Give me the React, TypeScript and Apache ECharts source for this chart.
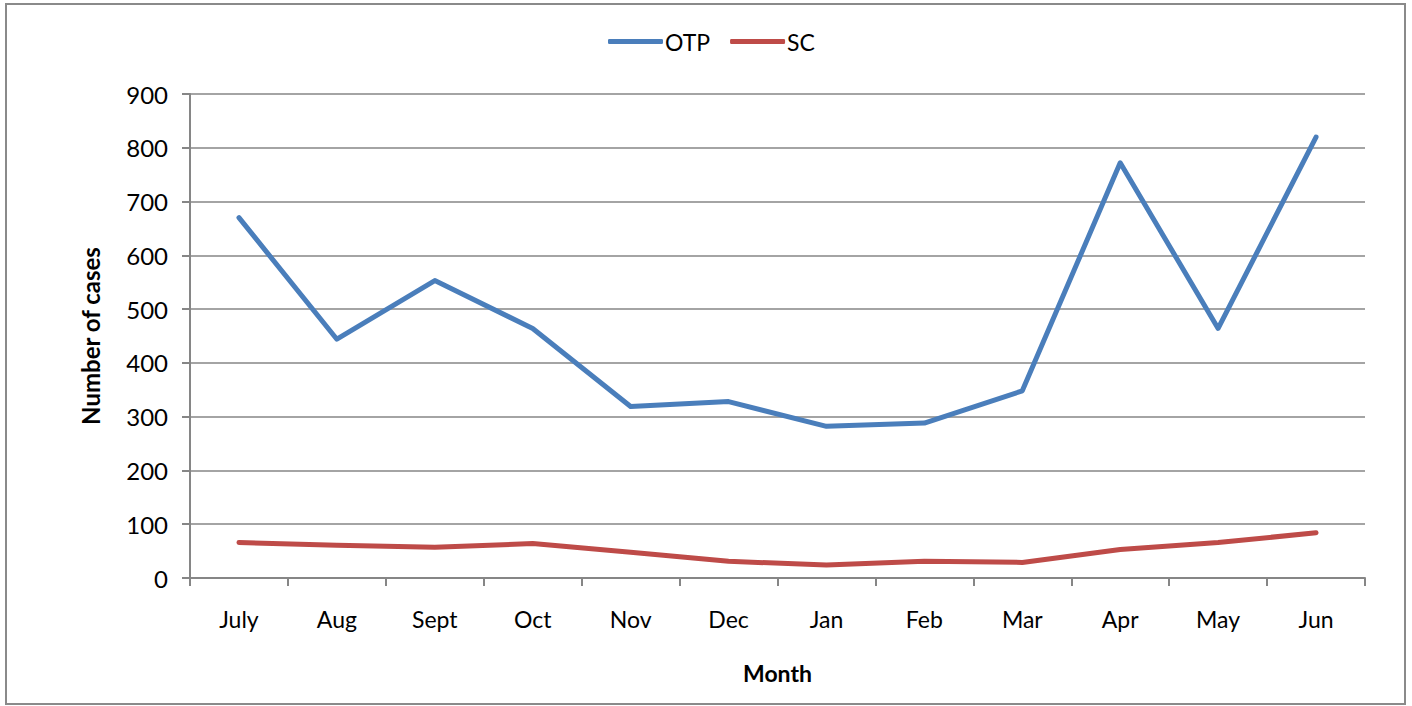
import React, { useEffect, useRef } from "react";
import * as echarts from "echarts";

const months = ["July", "Aug", "Sept", "Oct", "Nov", "Dec", "Jan", "Feb", "Mar", "Apr", "May", "Jun"];
const otp = [670, 444, 553, 464, 319, 328, 282, 288, 348, 772, 464, 820];
const sc = [66, 61, 57, 64, 48, 31, 24, 31, 29, 53, 66, 84];

const FONT = "Lato, 'Open Sans', sans-serif";

export default function App() {
  const ref = useRef<HTMLDivElement>(null);
  useEffect(() => {
    if (!ref.current) return;
    const chart = echarts.init(ref.current, undefined, { renderer: "svg" });
    chart.setOption({
      animation: false,
      backgroundColor: "#ffffff",
      textStyle: { fontFamily: FONT },
      graphic: [
        {
          type: "rect",
          shape: { x: 6, y: 4, width: 1399, height: 700 },
          style: { fill: "none", stroke: "#8a8a8a", lineWidth: 2 },
          silent: true,
        },
      ],
      legend: {
        top: 25,
        left: 603,
        itemWidth: 55,
        itemHeight: 5,
        itemGap: 20,
        icon: "roundRect",
        textStyle: { fontSize: 23, color: "#000", fontFamily: FONT, padding: [0, 0, 0, -3] },
        data: ["OTP", "SC"],
      },
      grid: { left: 190, right: 47, top: 94, bottom: 128, containLabel: false },
      xAxis: {
        type: "category",
        data: months,
        boundaryGap: true,
        name: "Month",
        nameLocation: "middle",
        nameGap: 83,
        nameTextStyle: { fontSize: 23, fontWeight: "bold", color: "#000", fontFamily: FONT },
        axisLine: { lineStyle: { color: "#868686", width: 2 } },
        axisTick: { show: true, length: 8, lineStyle: { color: "#868686", width: 2 } },
        axisLabel: { fontSize: 23, color: "#000", margin: 29, fontFamily: FONT },
      },
      yAxis: {
        type: "value",
        min: 0,
        max: 900,
        interval: 100,
        name: "Number of cases",
        nameLocation: "middle",
        nameGap: 88,
        nameRotate: 90,
        nameTextStyle: { fontSize: 24, fontWeight: "bold", color: "#000", fontFamily: FONT },
        axisLine: { show: true, lineStyle: { color: "#868686", width: 2 } },
        axisTick: { show: true, length: 8, lineStyle: { color: "#868686", width: 2 } },
        axisLabel: { fontSize: 24, color: "#000", margin: 22, fontFamily: FONT },
        splitLine: { lineStyle: { color: "#868686", width: 1.5 } },
      },
      series: [
        {
          name: "OTP",
          type: "line",
          data: otp,
          symbol: "none",
          color: "#4A7EBB",
          lineStyle: { width: 5, color: "#4A7EBB", cap: "round", join: "round" },
        },
        {
          name: "SC",
          type: "line",
          data: sc,
          symbol: "none",
          color: "#BE4B48",
          lineStyle: { width: 5, color: "#BE4B48", cap: "round", join: "round" },
        },
      ],
    });
    return () => chart.dispose();
  }, []);
  return (
    <div
      ref={ref}
      style={{ position: "absolute", left: 0, top: 0, width: 1412, height: 706 }}
    />
  );
}
